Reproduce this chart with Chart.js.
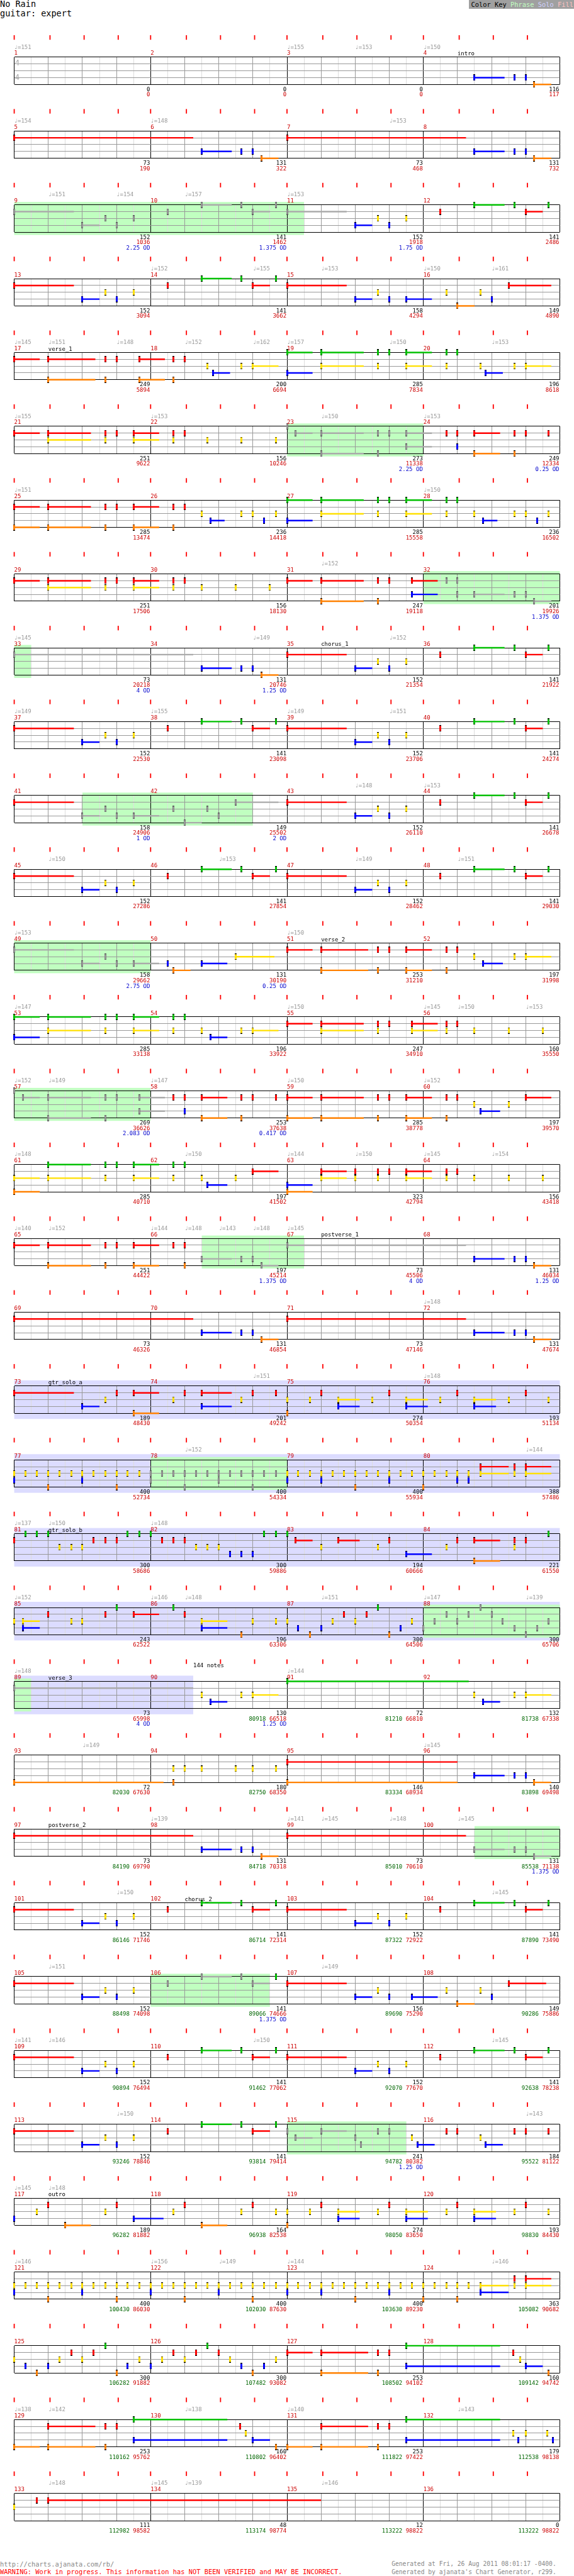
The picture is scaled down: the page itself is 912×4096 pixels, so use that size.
<!DOCTYPE html>
<html>
<head>
<meta charset="utf-8">
<script src="https://cdn.jsdelivr.net/npm/chart.js@4.4.0/dist/chart.umd.min.js"></script>
<style>
  html, body { margin: 0; padding: 0; background: #fff; }
  body { width: 912px; height: 4096px; overflow: hidden; position: relative; font-family: "DejaVu Sans Mono", monospace; }
  .t { position: absolute; white-space: pre; line-height: 1; }
  canvas.row { position: absolute; left: 0; }
</style>
</head>
<body>
<script>
// === data ===
const songTitle = 'No Rain';
const partName = 'guitar: expert';

// notes per row of 4 measures: beat + lanes (lower case = star power) + sustain length
const chorusRiff = '0R1.75 2B.5 2.67Y 3B 3.5Y 4.5R 5.5G.88 6.67G 7R.5 7.67G 8R1.75 10B.5 10.67Y 11B 11.5Y 12.5R 13.5G.88 14.67G 15R.5 15.67G';
const rowNotes = [
  '13.5B.88 14.67B 15B 15.25O.5',
  '0R5.25 5.5B.88 6.67B 7B 7.25O.5 8R5.25 13.5B.88 14.67B 15B 15.25O.5',
  '0r1.75 2b.5 2.67y 3b 3.5y 4.5r 5.5g.88 6.67g 7r.5 7.67g 8r1.75 10B.5 10.67Y 11B 11.5Y 12.5R 13.5G.88 14.67G 15R.5 15.67G',
  '0R1.75 2B.5 2.67Y 3B 3.5Y 4.5R 5.5G.88 6.67G 7R.5 7.67G 8R1.75 10B.5 10.67Y 11B 11.5B.75 12.67Y 13O.5 13.67Y 14B 14.5R1.25',
  '0R.75 1RO1.38 2.67RO 3R 3.67RO.75 4.67RO 5R 5.67Y 5.83B.5 6.67Y 7Y.75 8GB.75 9GY1.25 10.67GY 11G 11.5GY.75 12.67GY 13G 13.67Y 13.83B.5 14.67Y 15Y.75',
  '0R.75 1RY1.25 2.67RY 3R 3.5RY.75 4.67RY 5R 5.67Y 6.67Y 7.67Y 8g 8.25r.5 9ro1.25 10.67ro 11r 11.5rb.75 12.67R 13RB 13.5RO.75 14.67RO 15R 15.67R',
  '0RO.75 1RO1.25 2.67RO 3R 3.5RO.75 4.67RO 5R 5.5Y 5.75B.42 6.67Y 7Y 7.33B 7.67Y 8GB.75 9GY1.25 10.67GY 11G 11.5GY.75 12.67GY 13G 13.5Y 13.75B.42 14.67Y 15Y 15.33B 15.67Y',
  '0R.75 1RY1.25 2.67RY 3R 3.5RY.75 4.67RY 5R 5.5Y 6.5Y 7.5Y 8R.75 9RO1.25 10.67RO 11R 11.67RB.75 12.67r 13rb 13.5b.88 14.67b 15b 15.25o.5',
  '0r5.25 5.5B.88 6.67B 7B 7.25O.5 8R1.75 10B.5 10.67Y 11B 11.5Y 12.5R 13.5G.88 14.67G 15R.5 15.67G',
  chorusRiff,
  '0R1.75 2b.5 2.67y 3b 3.5b.75 4.67y 5o.5 5.67y 6b 6.5r1.25 8R1.75 10B.5 10.67Y 11B 11.5Y 12.5R 13.5G.88 14.67G 15R.5 15.67G',
  chorusRiff,
  '0r1.75 2b.5 2.67y 3b 3.5b.75 4.5B 4.67O.5 5.5B.75 6.5Y1.13 8R.75 9RO1.38 10.67RO 11R 11.5RO.75 12.67RO 13R 13.5Y 13.75B.58 14.67Y 15Y.75',
  '0GB.75 1GY1.25 2.67GY 3G 3.5GY.75 4.67GY 5G 5.5Y 5.75B.5 6.67Y 7Y.75 8R.75 9RY1.25 10.67RY 11R 11.67RY.75 12.67RY 13R 13.5Y 14.5Y 15.5Y',
  '0g 0.25r.5 1ro1.25 2.67ro 3r 3.67rb.75 4.67R 5RB 5.5RO.75 6.67RO 7R 7.67R 8RO.75 9RO1.25 10.67RO 11R 11.5RO.75 12.67RO 13R 13.5Y 13.67B.58 14.5Y 15R.75',
  '0YO.75 1GY1.25 2.67GY 3G 3.5GY.75 4.67GY 5G 5.5Y 5.67B.58 6.5Y 7R.75 8BO.75 9RY.75 10RY 10.67RY 11R 11.5RY.75 12.67RY 13R 13.5Y 14.5Y 15.5Y',
  '0R.75 1RO1.25 2.67RO 3R 3.5RO.75 4.67R 5RO 5.5b.88 6.67b 7b 7.25o.5 8r5.25 13.5B.88 14.67B 15B 15.25O.5',
  '0R5.25 5.5B.88 6.67B 7B 7.25O.5 8R5.25 13.5B.88 14.67B 15B 15.25O.5',
  '0R1.75 2B.5 2.67Y 3R 3.5RO.75 4.67Y 5R 5.5RB.88 6.67Y 7R 7.67R 8YO 8.67Y 9R 9.5YB.63 10.5Y 11R 11.5YB.63 12.5Y 13R 13.5YB.63 14.5Y 15R 15.67Y',
  '0YB 0.33Y 0.67Y 1YO 1.33Y 1.67Y 2YB 2.33Y 2.67Y 3YO 3.33Y 3.67Y 4yb 4.33y 4.67y 5yo 5.33y 5.67y 6yb 6.33y 6.67y 7yo 7.33y 7.67y 8YB 8.33Y 8.67Y 9YB 9.33Y 9.67Y 10YO 10.33Y 10.67Y 11YB 11.33Y 11.67Y 12YO 12.33Y 12.67Y 13YB 13.33YB 13.67RY.83 14.67RY 15RY.75',
  '0R 0.33G 0.67G 1G 1.33Y 1.67Y 2Y 2.33R 2.67R 3R 3.33G 3.67G 4G 4.33R 4.67R 5R 5.33Y 5.67Y 6Y 6.33B 6.67B 7B 7.33G 7.67G 8G 8.25R.5 9Y 9.5R.63 10.67Y 11R 11.5B.75 12.67Y 13R 13.5RO.75 14.67RY 15R 15.67G',
  '0Y 0.25YB.5 1R 1.67Y 2Y 2.67R 3G 3.5R.75 4.67G 5R 5.5YB.75 6.67O 7Y 7.67Y 8Y 8.33B 8.67O 9B 9.33Y 9.67R 10Y 10.33R 10.67G 11O 11.33B 11.67Y 12b 12.33y 12.67r 13y 13.33r 13.67g 14r 14.33y 14.67b 15o 15.33b 15.67y',
  '0r5.25 5.5Y 5.75B.5 6.67Y 7Y.75 8G5.33 13.5Y 13.75B.5 14.67Y 15Y.75',
  '0O4.38 4.67YO 5Y 5.5Y 6.5Y 7Y 7.67Y 8RO5 13.5B.88 14.67B 15B 15.25O.5',
  '0R5.25 5.5B.88 6.67B 7B 7.25O.5 8R5.25 13.5b.88 14.67b 15b 15.25o.5',
  chorusRiff,
  '0R1.75 2B.5 2.67Y 3B 3.5Y 4.5r 5.5g.88 6.67g 7r.5 7.67G 8R1.75 10B.5 10.67Y 11B 11.67B.75 12.67Y 13O.5 13.67Y 14B 14.5R1.1',
  chorusRiff,
  '0R1.75 2B.5 2.67Y 3B 3.5Y 4.5R 5.5G.88 6.67G 7R.5 7.67G 8r 8.25y.5 9r.75 10y 10.17b 10.67r 11r 11.67Y 11.83B.5 12.67R 13R 13.67Y 13.83B.5 14.67R 15R 15.67R',
  '0B 0.67Y 1R 1.5O.75 2.67Y 3R 3.5B.88 4.67Y 5R 5.5O.75 6.67Y 7R 7.67Y 8YO 8.67Y 9R 9.5YB.63 10.67Y 11R 11.5YB.63 12.67Y 13R 13.5YB.63 14.67Y 15R 15.67Y',
  '0YB 0.33Y 0.67Y 1YO 1.33Y 1.67Y 2YB 2.33Y 2.67Y 3YO 3.33Y 3.67Y 4YB 4.33Y 4.67Y 5YO 5.33Y 5.67Y 6YB 6.33Y 6.67Y 7YO 7.33Y 7.67Y 8YB 8.33Y 8.67Y 9YB 9.33Y 9.67Y 10YO 10.33Y 10.67Y 11YB 11.33Y 11.67Y 12YO 12.33Y 12.67Y 13YO 13.33Y 13.67YB.83 14.67RY 15RY.75',
  '0Y 0.33B 0.67O 1B 1.33Y 1.67R 2Y 2.33R 2.67G 3O 3.33B 3.67Y 4B 4.33Y 4.67R 5Y 5.33R 5.67G 6R 6.33Y 6.67B 7O 7.33B 7.67Y 8R.75 9RO1.38 10.67RO 11R 11.5GB2.75 14.63R 14.83Y 15B.5 15.67O',
  '0O.75 1RO1.38 2.67RO 3R 3.5GB2.75 6.63R 6.8Y 7B.5 7.67O 8O.75 9RO1.38 10.67RO 11R 11.5GB2.75 14.63Y 14.79B 15Y 15.63Y 15.79B',
  '0Y 0.67R 1R8'
];

// numbers under each measure
const measureCounts = [
  0, 0, 0, 116,   73, 131, 73, 131,   152, 141, 152, 141,   152, 141, 158, 149,
  249, 200, 285, 196,   251, 156, 273, 249,   285, 236, 285, 236,   251, 156, 247, 201,
  73, 131, 152, 141,   152, 141, 152, 141,   158, 149, 152, 141,   152, 141, 152, 141,
  158, 131, 253, 197,   285, 196, 247, 160,   269, 253, 285, 197,   285, 197, 323, 156,
  251, 197, 73, 131,   73, 131, 73, 131,   189, 201, 274, 193,   400, 400, 400, 388,
  300, 300, 194, 221,   243, 196, 300, 300,   73, 130, 72, 132,   72, 180, 146, 140,
  73, 131, 73, 131,   152, 141, 152, 141,   152, 141, 156, 149,   152, 141, 152, 141,
  152, 141, 241, 184,   189, 164, 274, 193,   400, 400, 400, 363,   300, 300, 253, 160,
  253, 160, 253, 179,   111, 48, 12, 0
];
const runningTotals = [
  0, 0, 0, 117,   190, 322, 468, 732,   1036, 1462, 1918, 2486,   3094, 3662, 4294, 4890,
  5894, 6694, 7834, 8618,   9622, 10246, 11338, 12334,   13474, 14418, 15558, 16502,   17506, 18130, 19118, 19926,
  20218, 20746, 21354, 21922,   22530, 23098, 23706, 24274,   24906, 25502, 26110, 26678,   27286, 27854, 28462, 29030,
  29662, 30190, 31210, 31998,   33138, 33922, 34910, 35550,   36626, 37638, 38778, 39570,   40710, 41502, 42794, 43418,
  44422, 45214, 45506, 46034,   46326, 46854, 47146, 47674,   48430, 49242, 50354, 51134,   52734, 54334, 55934, 57486,
  58686, 59886, 60666, 61550,   62522, 63306, 64506, 65706,   65998, 66518, 66810, 67338,   67630, 68350, 68934, 69498,
  69790, 70318, 70610, 71138,   71746, 72314, 72922, 73490,   74098, 74666, 75290, 75886,   76494, 77062, 77670, 78238,
  78846, 79414, 80382, 81122,   81882, 82538, 83650, 84430,   86030, 87630, 89230, 90682,   91882, 93082, 94102, 94742,
  95762, 96402, 97422, 98138,   98582, 98774, 98822, 98822
];
const bonusFrom = 90; // green totals start at measure 90
const bonusTotals = [
  80918, 81210, 81738,   82030, 82750, 83334, 83898,   84190, 84718, 85010, 85538,
  86146, 86714, 87322, 87890,   88498, 89066, 89690, 90286,   90894, 91462, 92070, 92638,
  93246, 93814, 94782, 95522,   96282, 96938, 98050, 98830,   100430, 102030, 103630, 105082,
  106282, 107482, 108502, 109142,   110162, 110802, 111822, 112538,   112982, 113174, 113222, 113222
];
const odMarks = [
  [9, '2.25'], [10, '1.375'], [11, '1.75'], [23, '2.25'], [24, '0.25'], [32, '1.375'], [33, '4'], [34, '1.25'],
  [41, '1'], [42, '2'], [49, '2.75'], [50, '0.25'], [57, '2.083'], [58, '0.417'], [66, '1.375'], [67, '4'],
  [68, '1.25'], [89, '4'], [90, '1.25'], [100, '1.375'], [106, '1.375'], [115, '1.25']
];

// tempo marks per row: [beat, bpm]
const tempoMarks = [
  [[0, 151], [8, 155], [10, 153], [12, 150]],
  [[0, 154], [4, 148], [11, 153]],
  [[1, 151], [3, 154], [5, 157], [8, 153]],
  [[4, 152], [7, 155], [9, 153], [12, 150], [14, 161]],
  [[0, 145], [1, 151], [3, 148], [5, 152], [7, 162], [8, 157], [11, 150], [14, 153]],
  [[0, 155], [4, 153], [9, 150], [12, 153]],
  [[0, 151], [12, 150]],
  [[9, 152]],
  [[0, 145], [7, 149], [11, 152]],
  [[0, 149], [4, 155], [8, 149], [11, 151]],
  [[10, 148], [12, 153]],
  [[1, 150], [6, 153], [10, 149], [13, 151]],
  [[0, 153], [8, 150]],
  [[0, 147], [8, 150], [12, 145], [13, 150], [15, 153]],
  [[0, 152], [1, 149], [4, 147], [8, 150], [12, 152]],
  [[0, 148], [5, 150], [8, 144], [10, 150], [12, 145], [14, 154]],
  [[0, 140], [1, 152], [4, 144], [5, 148], [6, 143], [7, 148], [8, 145]],
  [[12, 148]],
  [[7, 151], [12, 148]],
  [[5, 152], [15, 144]],
  [[0, 137], [1, 150], [4, 148]],
  [[0, 152], [4, 146], [5, 148], [9, 151], [12, 147], [15, 139]],
  [[0, 148], [8, 144]],
  [[2, 149], [12, 145]],
  [[4, 139], [8, 141], [9, 145], [11, 148], [13, 145]],
  [[3, 150], [14, 145]],
  [[1, 151], [9, 149]],
  [[0, 141], [1, 146], [7, 150], [14, 145]],
  [[3, 150], [15, 143]],
  [[0, 145], [1, 148]],
  [[0, 146], [4, 156], [6, 149], [8, 144], [14, 146]],
  [],
  [[0, 138], [1, 142], [5, 138], [8, 140], [13, 143]],
  [[1, 148], [4, 145], [5, 139], [9, 146]]
];

// [row, beat, name]
const sectionNames = [
  [0, 13, 'intro'], [4, 1, 'verse_1'], [8, 9, 'chorus_1'], [12, 9, 'verse_2'], [16, 9, 'postverse_1'],
  [18, 1, 'gtr_solo_a'], [20, 1, 'gtr_solo_b'], [22, 1, 'verse_3'], [24, 1, 'postverse_2'],
  [25, 5, 'chorus_2'], [29, 1, 'outro']
];
const noteCallouts = [[22, 5.25, '144 notes']];

// [row, startBeat, endBeat]
const phraseSpans = [
  [2, 0, 8.5], [5, 8, 12], [7, 12, 16], [8, 0, 0.5], [10, 2, 7], [12, 0, 4], [14, 0, 4],
  [16, 5.5, 8.5], [19, 4, 8], [21, 12, 16], [22, 0, 0.5], [24, 13.5, 16], [26, 4, 7.5], [28, 8, 11.5]
];
const soloSpans = [[18, 0, 16], [19, 0, 16], [20, 0, 16], [21, 0, 16], [22, 0, 5.25]];

const footerLeft = ['http://charts.ajanata.com/rb/', 'WARNING: Work in progress. This information has NOT BEEN VERIFIED and MAY BE INCORRECT.'];
const footerRight = ['Generated at Fri, 26 Aug 2011 08:01:17 -0400.', "Generated by ajanata's Chart Generator, r299."];

// === layout ===
const S = 912 / 1010;
const ROW0 = 100.7, ROW_STEP = 130, STAFF = 48;
const CAN_H = 118;
const LANES = 'GRYBO';
const COLORS = { G: '#00c000', R: '#ff0000', Y: '#ffe000', B: '#0000ff', O: '#ff8000', sp: '#aaaaaa' };
const TICK_OFFSETS = [0, 1.05, 2.05, 3.05];
const MONO = '"DejaVu Sans Mono", monospace';

function font(px) { return (px * S) + 'px ' + MONO; }

function parseRow(str) {
  const notes = [];
  str.trim().split(/\s+/).forEach(tok => {
    const m = tok.match(/^(\d*\.?\d+)([A-Za-z]+)(\d*\.?\d*)$/);
    if (!m) return;
    const beat = parseFloat(m[1]);
    const len = m[3] ? parseFloat(m[3]) : 0;
    for (const ch of m[2]) {
      const up = ch.toUpperCase();
      notes.push({ x: beat, lane: LANES.indexOf(up), len: len, key: ch === up ? up : 'sp' });
    }
  });
  return notes;
}

// note head: small bar with black caps
function headImage(key) {
  const c = document.createElement('canvas');
  c.width = 3; c.height = 10;
  const g = c.getContext('2d');
  g.fillStyle = key === 'sp' ? '#555' : '#000';
  g.fillRect(0, 0, 3, 10);
  g.fillStyle = COLORS[key];
  if (key === 'sp') g.fillRect(0.5, 1, 2, 8);
  else g.fillRect(0, 1, 3, 8);
  return c;
}
const HEADS = {};
Object.keys(COLORS).forEach(k => { HEADS[k] = headImage(k); });

function htmlText(text, x, cy, size, color, extra) {
  const d = document.createElement('div');
  d.className = 't';
  d.textContent = text;
  d.style.fontSize = (size * S) + 'px';
  d.style.color = color;
  d.style.left = (x * S) + 'px';
  d.style.top = ((cy - 0.5 * size) * S) + 'px';
  if (extra) Object.assign(d.style, extra);
  document.body.appendChild(d);
  return d;
}

// === header / footer ===
htmlText(songTitle, 0, 8, 15, '#000');
htmlText(partName, 0, 24, 15, '#000');
const key = document.createElement('div');
key.className = 't';
Object.assign(key.style, { left: (825 * S) + 'px', top: '0px', width: (185 * S) + 'px', height: (16 * S) + 'px',
  background: '#a0a0a0', fontSize: (11.5 * S) + 'px', lineHeight: (16 * S) + 'px', paddingLeft: (4 * S) + 'px', boxSizing: 'border-box' });
key.innerHTML = '<span style="color:#000">Color Key</span> <span style="color:#c0ffc0">Phrase</span> <span style="color:#d0d0ff">Solo</span> <span style="color:#ffc0c0">Fill</span>';
document.body.appendChild(key);

htmlText(footerLeft[0], 0, 4515, 11.5, '#888');
htmlText(footerLeft[1], 0, 4529, 11.5, '#ff0000');
htmlText(footerRight[0], 689, 4515, 10.7, '#888');
htmlText(footerRight[1], 689, 4529, 10.7, '#888');

// === staff decoration plugin ===
const staffPlugin = {
  id: 'staff',
  beforeDraw(chart, args, opts) {
    const r = opts.row;
    const { ctx, scales: { x, y } } = chart;
    const top = y.getPixelForValue(0), bot = y.getPixelForValue(4);
    ctx.save();
    ctx.fillStyle = '#dcdcff';
    soloSpans.filter(s => s[0] === r).forEach(s => {
      const x0 = x.getPixelForValue(s[1]), x1 = x.getPixelForValue(s[2]);
      ctx.fillRect(x0, top - 10 * S, x1 - x0, bot - top + 20 * S);
    });
    ctx.fillStyle = '#c0ffc0';
    phraseSpans.filter(s => s[0] === r).forEach(s => {
      const x0 = x.getPixelForValue(s[1]), x1 = x.getPixelForValue(s[2]);
      ctx.fillRect(x0, top - 5 * S, x1 - x0, bot - top + 10 * S);
    });
    ctx.restore();
  },
  afterDraw(chart, args, opts) {
    const r = opts.row;
    const { ctx, scales: { x, y } } = chart;
    const top = y.getPixelForValue(0);
    ctx.save();

    // red beat ticks above the staff
    ctx.fillStyle = '#ff0000';
    for (let m = 0; m < 4; m++) {
      TICK_OFFSETS.forEach(o => {
        const px = x.getPixelForValue(m * 4 + o);
        ctx.fillRect(px - S, top - 38.7 * S, 2 * S, 8 * S);
      });
    }

    ctx.font = font(10);
    ctx.textBaseline = 'alphabetic';
    for (let m = 0; m < 4; m++) {
      const num = r * 4 + m + 1;
      ctx.textAlign = 'left';
      ctx.fillStyle = '#cc0000';
      ctx.fillText(String(num), x.getPixelForValue(m * 4), top - 3.8 * S);

      const ex = x.getPixelForValue(m * 4 + 4) - S;
      ctx.textAlign = 'right';
      ctx.fillStyle = '#000';
      ctx.fillText(String(measureCounts[num - 1]), ex, top + 59.6 * S);
      const red = String(runningTotals[num - 1]);
      ctx.fillStyle = '#cc0000';
      ctx.fillText(red, ex, top + 69 * S);
      if (num >= bonusFrom) {
        const w = ctx.measureText(red + ' ').width;
        ctx.fillStyle = '#006600';
        ctx.fillText(String(bonusTotals[num - bonusFrom]), ex - w, top + 69 * S);
      }
      const od = odMarks.find(o => o[0] === num);
      if (od) {
        ctx.fillStyle = '#0000cc';
        ctx.fillText(od[1] + ' OD', ex, top + 78.6 * S);
      }
    }

    ctx.textAlign = 'left';
    ctx.fillStyle = '#999';
    tempoMarks[r].forEach(t => {
      ctx.fillText('\u2669=' + t[1], x.getPixelForValue(t[0]), top - 14.7 * S);
    });
    ctx.fillStyle = '#000';
    sectionNames.filter(s => s[0] === r).forEach(s => {
      ctx.fillText(s[2], x.getPixelForValue(s[1]), top - 3.2 * S);
    });
    noteCallouts.filter(s => s[0] === r).forEach(s => {
      ctx.fillText(s[2], x.getPixelForValue(s[1]), top - 25 * S);
    });

    if (r === 0) {
      ctx.font = font(14);
      ctx.fillStyle = '#aaa';
      ctx.fillText('4', x.getPixelForValue(0) + S, top + 14.4 * S);
      ctx.fillText('4', x.getPixelForValue(0) + S, top + 39.4 * S);
    }
    ctx.restore();
  }
};
Chart.register(staffPlugin);

// === one chart per row ===
function gridX(v) {
  if (v % 4 === 0) return '#000';
  if (v % 1 === 0) return '#999';
  return '#dddddd';
}

rowNotes.forEach((str, r) => {
  const notes = parseRow(str);
  const staffTop = (ROW0 + ROW_STEP * r) * S;
  const canTop = Math.round(staffTop - 44 * S);
  const padTop = staffTop - canTop;
  const padBottom = CAN_H - padTop - STAFF * S;

  const canvas = document.createElement('canvas');
  canvas.className = 'row';
  canvas.width = 912;
  canvas.height = CAN_H;
  canvas.style.top = canTop + 'px';
  document.body.appendChild(canvas);

  const datasets = [];
  Object.keys(COLORS).forEach(k => {
    const mine = notes.filter(n => n.key === k);
    const sus = [];
    mine.filter(n => n.len > 0).forEach(n => {
      sus.push({ x: n.x, y: n.lane }, { x: n.x + n.len, y: n.lane }, { x: n.x + n.len, y: null });
    });
    datasets.push({
      type: 'line', data: sus, borderColor: COLORS[k], borderWidth: 2.7 * S, pointRadius: 0,
      spanGaps: false, tension: 0, borderCapStyle: 'butt', clip: false, order: 2
    });
    datasets.push({
      type: 'scatter', data: mine.map(n => ({ x: n.x, y: n.lane })),
      pointStyle: HEADS[k], pointRadius: 5, clip: false, order: 1
    });
  });

  new Chart(canvas, {
    type: 'scatter',
    data: { datasets },
    options: {
      responsive: false,
      animation: false,
      devicePixelRatio: 1,
      events: [],
      layout: { padding: { left: 25 * S, right: 25 * S, top: padTop, bottom: padBottom } },
      scales: {
        x: {
          type: 'linear', min: 0, max: 16,
          afterFit: s => { s.height = 0; },
          ticks: { display: false, stepSize: 0.5, autoSkip: false },
          grid: { drawTicks: false, color: c => gridX(c.tick.value), lineWidth: 1 },
          border: { display: false }
        },
        y: {
          type: 'linear', min: 0, max: 4, reverse: true,
          afterFit: s => { s.width = 0; },
          ticks: { display: false, stepSize: 1, autoSkip: false },
          grid: { drawTicks: false, color: c => (c.tick.value === 0 || c.tick.value === 4) ? '#000' : '#999', lineWidth: 1 },
          border: { display: false }
        }
      },
      plugins: { legend: { display: false }, tooltip: { enabled: false }, staff: { row: r } }
    }
  });
});
</script>
</body>
</html>
